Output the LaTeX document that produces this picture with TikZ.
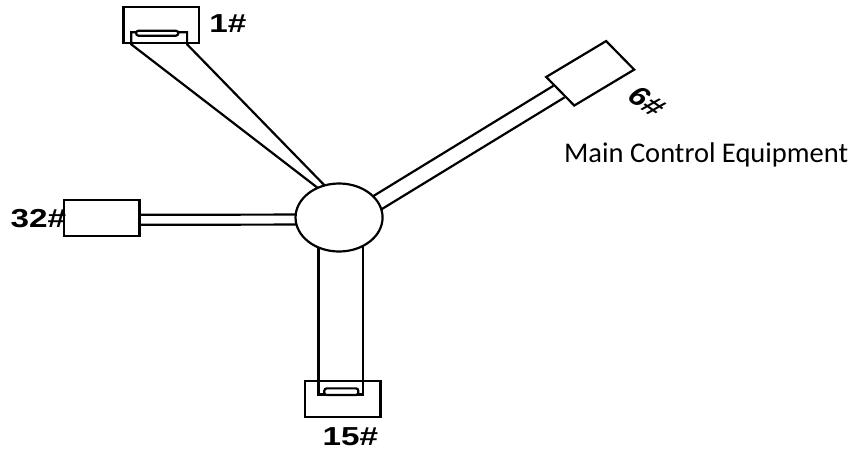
\documentclass[tikz,border=0pt]{standalone}
\usepackage{fontspec}
\setmainfont{Carlito}
\newfontfamily\tagfont{Liberation Sans}
\usetikzlibrary{calc}

\begin{document}
\begin{tikzpicture}[x=1pt, y=-1pt, line width=2.2pt,
  box/.style={draw, fill=white, rectangle, inner sep=0pt, minimum width=59pt, minimum height=36pt},
  port/.style={inner sep=0pt},
  slot/.style={draw, fill=white, rounded corners=2.5pt, inner sep=0pt},
  hub/.style={draw, fill=white, circle, inner sep=0pt, minimum size=68pt},
  tag/.style={font=\tagfont\bfseries\fontsize{26}{30}\selectfont, inner sep=0pt}]
  \useasboundingbox (0,0) rectangle (860,452);
  % the drawing is stretched sideways; coordinates stay in pixels
  \begin{scope}[xscale=1.28, x=0.78125pt, transform shape]
  % ---------------------------------------------------------------- boxes
  \node[box] (box1) at (161.3,25.2) {};
  \node[box] (box15) at (342.8,399.2) {};
  \node[box] (box32) at (101.8,217.8) {};
  \node[box, rotate=37.5] (box6) at (590.2,73.3) {};
  % brackets the cables enter
  \node[port, minimum width=41.4pt, minimum height=10pt] (port1) at (159.2,38.3) {};
  \node[port, minimum width=32.6pt, minimum height=12.6pt] (port15) at (340.8,387) {};
  % ---------------------------------------------------------------- cables
  \coordinate (hc) at (339,217.5);
  % to 1#
  \fill[white] (port1.south west) -- (port1.south east) -- ($(hc)+(-10,-27.5)$) -- ($(hc)+(-16,-25.5)$) -- cycle;
  \draw ($(hc)+(-16,-25.5)$) -- (port1.south west) |- (port1.north east) -- (port1.south east) -- ($(hc)+(-10,-27.5)$);
  % to 15#
  \fill[white] (port15.north west) rectangle (hc -| port15.north east);
  \draw (hc -| port15.north west) -- (port15.north west) |- (port15.south east) -- (port15.north east) -- (hc -| port15.north east);
  % to 32#
  \draw ($(box32.east)+(0,-3)$) -- ($(hc)+(0,-3)$);
  \draw ($(box32.east)+(0,7)$) -- ($(hc)+(0,7)$);
  % to 6#
  \draw ($(box6.north west)!0.3!(box6.south west)$) -- ($(hc)+(27.5,-17.3)$);
  \draw ($(box6.north west)!0.68!(box6.south west)$) -- ($(hc)+(34.4,-3.3)$);
  % ---------------------------------------------------------------- hub
  \node[hub] (hub) at (hc) {};
  % slots
  \node[slot, minimum width=33pt, minimum height=5pt] (slot1) at (157.2,33.2) {};
  \node[slot, minimum width=26.6pt, minimum height=6.7pt] (slot15) at (341.3,391.7) {};
  % labels
  \node[tag, anchor=base] (tag1) at (228,33) {1\#};
  \node[tag, anchor=base] (tag15) at (350.5,445) {15\#};
  \node[tag, anchor=base] (tag32) at (38.5,227) {32\#};
  \node[tag, rotate=-42] (tag6) at (647,102) {6\#};
  \end{scope}
  \node[anchor=base west, inner sep=0pt, font=\fontsize{28.5}{34}\selectfont] (caption) at (563,162) {Main Control Equipment};
\end{tikzpicture}
\end{document}
